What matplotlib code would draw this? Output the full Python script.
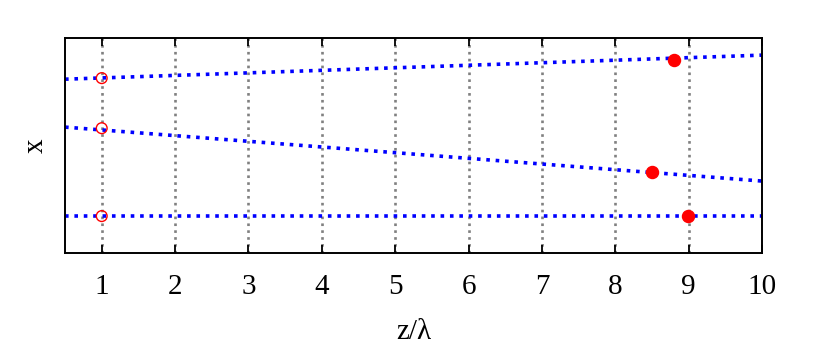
import numpy as np
import matplotlib.pyplot as plt

plt.rcParams['font.family'] = ['Liberation Serif', 'DejaVu Serif']

# line endpoints (z/lambda) and values (arbitrary x units)
z_ends = [0.5, 10.0]
line_top = [0.809, 0.921]
line_mid = [0.586, 0.335]
line_bot = [0.172, 0.172]

# open circles at z=1
open_z = [1.0, 1.0, 1.0]
open_x = [0.814, 0.581, 0.172]

# filled points
fill_z = [8.80, 8.50, 8.99]
fill_x = [0.898, 0.377, 0.172]

xticks = [1, 2, 3, 4, 5, 6, 7, 8, 9, 10]

fig = plt.figure(figsize=(8.17, 3.5), dpi=100)
ax = fig.add_axes([0.0796, 0.277, 0.8531, 0.614])

for xv in xticks:
    ax.axvline(xv, color='#808080', linestyle=(0, (1.0, 1.6)), linewidth=1.9, zorder=1)

for line in (line_top, line_mid, line_bot):
    ax.plot(z_ends, line, color='blue', linestyle=(0, (1, 1.6)), linewidth=2.6, zorder=2)

ax.scatter(open_z, open_x, s=60, facecolors='none', edgecolors='red', linewidths=1.0, zorder=3)
ax.scatter(fill_z, fill_x, s=75, color='red', zorder=3)

ax.set_xlim(0.5, 10)
ax.set_ylim(0, 1)
ax.set_xticks(xticks)
ax.set_yticks([])
ax.tick_params(axis='x', direction='in', top=True, length=6, width=1.3, labelsize=21, pad=15)
for sp in ax.spines.values():
    sp.set_linewidth(1.4)

ax.set_xlabel('z/λ', fontsize=21, labelpad=14)
ax.set_ylabel('x', fontsize=21, labelpad=12)

fig.savefig('out.png', dpi=100)
